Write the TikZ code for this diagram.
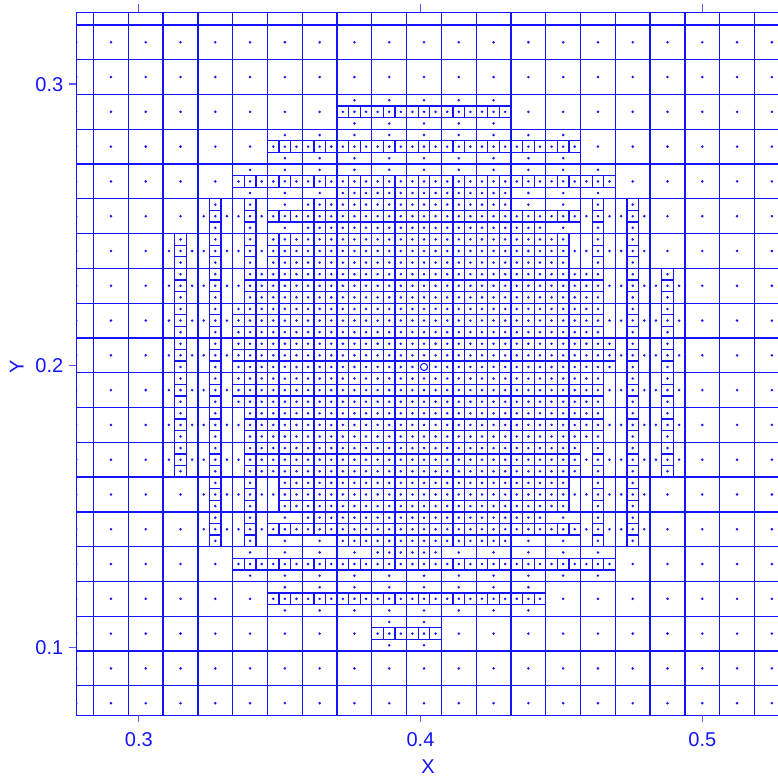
\documentclass[tikz,border=0pt]{standalone}
\usepackage{fontspec}
\setmainfont{Liberation Sans}
\definecolor{meshblue}{RGB}{20,20,255}
\tikzset{
  gridc/.style={draw=meshblue, line width=1.3pt},
  dotc/.style={fill=meshblue},
  framec/.style={draw=meshblue, line width=1.3pt},
  tickc/.style={draw=meshblue!70, line width=1.3pt},
  lab/.style={text=meshblue, font=\fontsize{20}{24}\selectfont, inner sep=0pt}
}
\newcommand\dotr{1.4pt}
\newcommand\markcell[2]{\expandafter\gdef\csname rf@#1@#2\endcsname{}}
% strip of an x-split cell: i j s flag
\newcommand\mxstrip[4]{%
  \pgfmathsetmacro\mUa{#1+#3/3}%
  \pgfmathsetmacro\mUb{#1+(#3+1)/3}%
  \pgfmathsetmacro\mUc{#1+(2*#3+1)/6}%
  \ifnum#4=1
    \draw[gridc] (\mUa,#2+1/3) -- (\mUb,#2+1/3) (\mUa,#2+2/3) -- (\mUb,#2+2/3);
    \fill[dotc] (\mUc,#2+1/6) circle[radius=\dotr] (\mUc,#2+1/2) circle[radius=\dotr] (\mUc,#2+5/6) circle[radius=\dotr];
  \else
    \fill[dotc] (\mUc,#2+1/2) circle[radius=\dotr];
  \fi}
% strip of a y-split cell: i j t flag (t=0 bottom, 1 middle, 2 top)
\newcommand\mystrip[4]{%
  \pgfmathsetmacro\mVa{#2+#3/3}%
  \pgfmathsetmacro\mVb{#2+(#3+1)/3}%
  \pgfmathsetmacro\mVc{#2+(2*#3+1)/6}%
  \ifnum#4=1
    \draw[gridc] (#1+1/3,\mVa) -- (#1+1/3,\mVb) (#1+2/3,\mVa) -- (#1+2/3,\mVb);
    \fill[dotc] (#1+1/6,\mVc) circle[radius=\dotr] (#1+1/2,\mVc) circle[radius=\dotr] (#1+5/6,\mVc) circle[radius=\dotr];
  \else
    \fill[dotc] (#1+1/2,\mVc) circle[radius=\dotr];
  \fi}
% x-split cell: i j left mid right
\newcommand\cellX[5]{%
  \markcell{#1}{#2}%
  \draw[gridc] (#1+1/3,#2) -- (#1+1/3,#2+1) (#1+2/3,#2) -- (#1+2/3,#2+1);
  \mxstrip{#1}{#2}{0}{#3}\mxstrip{#1}{#2}{1}{#4}\mxstrip{#1}{#2}{2}{#5}}
% y-split cell: i j top mid bottom
\newcommand\cellY[5]{%
  \markcell{#1}{#2}%
  \draw[gridc] (#1,#2+1/3) -- (#1+1,#2+1/3) (#1,#2+2/3) -- (#1+1,#2+2/3);
  \mystrip{#1}{#2}{2}{#3}\mystrip{#1}{#2}{1}{#4}\mystrip{#1}{#2}{0}{#5}}
\newcommand\cellF[2]{\cellX{#1}{#2}{1}{1}{1}}
\begin{document}
\begin{tikzpicture}[x=1pt,y=1pt]
\useasboundingbox (0,0) rectangle (778,776);
\begin{scope}[shift={(-706.5pt,-153.3pt)}, x=34.785pt, y=34.785pt]
  \begin{scope}
    \clip (22.5,6.152) rectangle (42.7,26.362);
    % coarse grid
    \foreach \k in {23,...,42} {\draw[gridc] (\k,6) -- (\k,27);}
    \foreach \k in {7,...,26} {\draw[gridc] (22,\k) -- (43,\k);}
    % row 23
    \foreach \i in {30,...,34} {\cellY{\i}{23}{0}{1}{0}}
    % row 22
    \foreach \i in {28,...,36} {\cellY{\i}{22}{0}{1}{0}}
    % row 21
    \foreach \i in {27,28,29,35,36,37} {\cellY{\i}{21}{0}{1}{0}}
    \foreach \i in {30,...,34} {\cellY{\i}{21}{0}{1}{1}}
    % row 20
    \foreach \i in {26,27,37,38} {\cellX{\i}{20}{0}{1}{0}}
    \cellY{28}{20}{0}{1}{0}
    \foreach \i in {29,...,34} {\cellF{\i}{20}}
    \cellY{35}{20}{0}{1}{1}
    \cellY{36}{20}{0}{1}{0}
    % row 19
    \foreach \i in {25,26,27,37,38} {\cellX{\i}{19}{0}{1}{0}}
    \foreach \i in {28,...,35} {\cellF{\i}{19}}
    \cellX{36}{19}{1}{1}{0}
    % row 18
    \foreach \i in {25,26,38,39} {\cellX{\i}{18}{0}{1}{0}}
    \cellX{27}{18}{0}{1}{1}
    \foreach \i in {28,...,36} {\cellF{\i}{18}}
    \cellX{37}{18}{1}{1}{0}
    % row 17
    \foreach \i in {25,26,38,39} {\cellX{\i}{17}{0}{1}{0}}
    \foreach \i in {27,...,36} {\cellF{\i}{17}}
    \cellX{37}{17}{1}{1}{0}
    % row 16
    \foreach \i in {25,26,38,39} {\cellX{\i}{16}{0}{1}{0}}
    \foreach \i in {27,...,37} {\cellF{\i}{16}}
    % row 15
    \foreach \i in {25,26,38,39} {\cellX{\i}{15}{0}{1}{0}}
    \foreach \i in {27,...,36} {\cellF{\i}{15}}
    \cellX{37}{15}{1}{1}{0}
    % row 14
    \foreach \i in {25,26,38,39} {\cellX{\i}{14}{0}{1}{0}}
    \cellX{27}{14}{0}{1}{1}
    \foreach \i in {28,...,36} {\cellF{\i}{14}}
    \cellX{37}{14}{1}{1}{0}
    % row 13
    \foreach \i in {25,26,37,38,39} {\cellX{\i}{13}{0}{1}{0}}
    \cellX{27}{13}{0}{1}{1}
    \foreach \i in {28,...,36} {\cellF{\i}{13}}
    % row 12
    \foreach \i in {26,27,37,38} {\cellX{\i}{12}{0}{1}{0}}
    \cellX{28}{12}{0}{1}{1}
    \foreach \i in {29,...,35} {\cellF{\i}{12}}
    \cellX{36}{12}{1}{1}{0}
    % row 11
    \foreach \i in {26,27,37,38} {\cellX{\i}{11}{0}{1}{0}}
    \cellY{28}{11}{0}{1}{0}
    \cellY{29}{11}{1}{1}{0}
    \foreach \i in {30,...,34} {\cellF{\i}{11}}
    \cellY{35}{11}{1}{1}{0}
    \cellY{36}{11}{0}{1}{0}
    % row 10
    \foreach \i in {27,28,29,30,33,34,35,36,37} {\cellY{\i}{10}{0}{1}{0}}
    \foreach \i in {31,32} {\cellY{\i}{10}{1}{1}{0}}
    % row 9
    \foreach \i in {28,...,35} {\cellY{\i}{9}{0}{1}{0}}
    % row 8
    \foreach \i in {31,32} {\cellY{\i}{8}{0}{1}{0}}
    % dots of unrefined cells
    \foreach \i in {22,...,42} {\foreach \j in {6,...,26} {%
      \ifcsname rf@\i @\j\endcsname\else
        \fill[dotc] (\i+0.5,\j+0.5) circle[radius=\dotr];
      \fi}}
    % marker
    \draw[meshblue, line width=1pt, fill=white] (32.5,16+1/6) circle[radius=3.6pt];
  \end{scope}
  % frame
  \coordinate (tl) at (22.5,26.362);
  \coordinate (bl) at (22.5,6.152);
  \coordinate (tr) at (42.8,26.362);
  \coordinate (br) at (42.8,6.152);
  \draw[framec] (tr) -- (tl) -- (bl) -- (br);
  % ticks
  \foreach \u in {24.3,32.4,40.5} {
    \draw[tickc] (\u,6.152) -- ++(0,-7pt);
    \draw[tickc] (\u,26.362) -- ++(0,8pt);
  }
  \foreach \v in {24.3,16.2,8.1} {
    \draw[tickc] (22.5,\v) -- ++(-7pt,0);
  }
\end{scope}
% labels
\node[lab, anchor=base] (x3) at (138.8,29.3) {0.3};
\node[lab, anchor=base] (x4) at (420.5,29.3) {0.4};
\node[lab, anchor=base] (x5) at (702.3,29.3) {0.5};
\node[lab, anchor=base east] (y3) at (63.5,684.8) {0.3};
\node[lab, anchor=base east] (y2) at (63.5,403.0) {0.2};
\node[lab, anchor=base east] (y1) at (63.5,121.3) {0.1};
\node[lab, anchor=base] (xt) at (428,3) {X};
\node[lab, anchor=base, rotate=90] (yt) at (23.5,409) {Y};
\end{tikzpicture}
\end{document}
